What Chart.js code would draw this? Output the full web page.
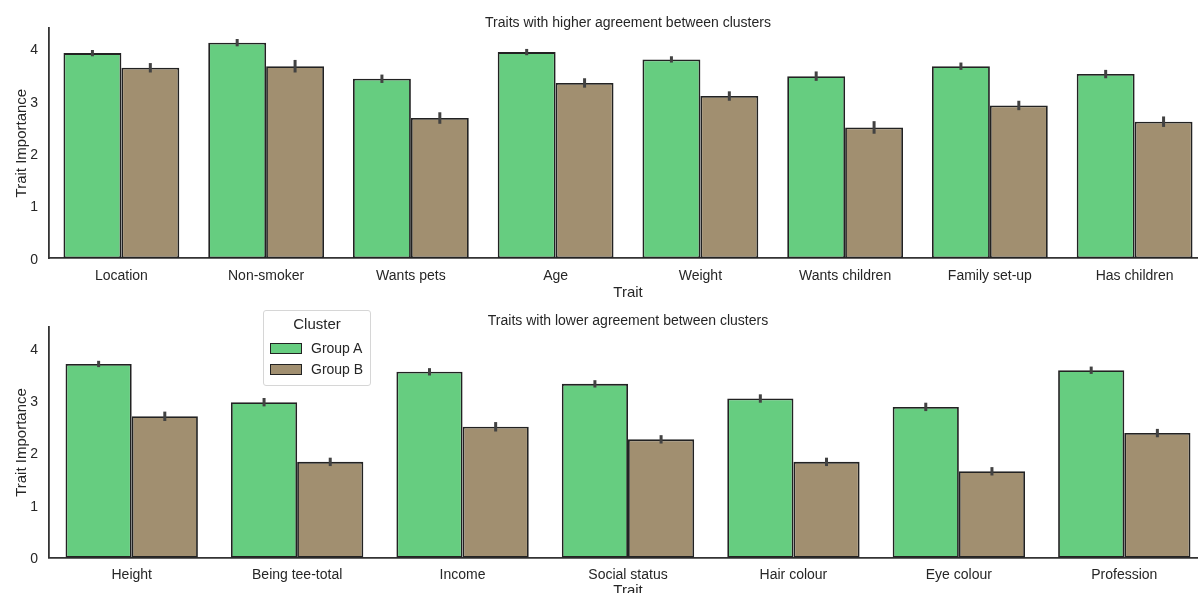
<!DOCTYPE html>
<html>
<head>
<meta charset="utf-8">
<script src="https://cdn.jsdelivr.net/npm/chart.js@4.4.1/dist/chart.umd.min.js"></script>
<style>
  html, body { margin: 0; padding: 0; background: #fff; overflow: hidden; }
  #page { position: relative; width: 1198px; height: 593px; overflow: hidden; background: #fff; }
  canvas { position: absolute; left: 0; }
  #topChart { top: 0; }
  #bottomChart { top: 300px; }
  #legend {
    position: absolute; left: 263px; top: 310px; width: 108px; height: 76px;
    border: 1px solid #d6d6d6; border-radius: 3px; background: rgba(255,255,255,0.85);
    font-family: "Liberation Sans", Arial, sans-serif; color: #262626; box-sizing: border-box;
  }
  #legend .ttl { position: absolute; left: 0; width: 100%; top: 4px; text-align: center; font-size: 15px; }
  #legend .row { position: absolute; left: 6px; font-size: 14px; line-height: 16px; }
  #legend .sw { position: absolute; left: 0; top: 3px; width: 30px; height: 9px; border: 1px solid #222; box-sizing: content-box; }
  #legend .lbl { position: absolute; left: 41px; top: 0; white-space: nowrap; }
</style>
</head>
<body>
<div id="page">
  <canvas id="topChart" width="1208" height="302"></canvas>
  <canvas id="bottomChart" width="1208" height="300"></canvas>
  <div id="legend">
    <div class="ttl">Cluster</div>
    <div class="row" style="top:29px"><span class="sw" id="swA"></span><span class="lbl">Group A</span></div>
    <div class="row" style="top:50px"><span class="sw" id="swB"></span><span class="lbl">Group B</span></div>
  </div>
</div>
<script>
// Mean trait importance per cluster, with half-width of the confidence interval
const traitsHigh = ['Location', 'Non-smoker', 'Wants pets', 'Age', 'Weight', 'Wants children', 'Family set-up', 'Has children'];
const highGroupA = [3.92, 4.12, 3.43, 3.94, 3.80, 3.48, 3.67, 3.52];
const highGroupB = [3.64, 3.67, 2.68, 3.35, 3.10, 2.50, 2.92, 2.61];
const highErrA = [0.06, 0.07, 0.08, 0.06, 0.06, 0.09, 0.07, 0.08];
const highErrB = [0.09, 0.12, 0.11, 0.09, 0.09, 0.12, 0.09, 0.10];

const traitsLow = ['Height', 'Being tee-total', 'Income', 'Social status', 'Hair colour', 'Eye colour', 'Profession'];
const lowGroupA = [3.70, 2.97, 3.55, 3.32, 3.04, 2.88, 3.58];
const lowGroupB = [2.70, 1.83, 2.50, 2.26, 1.83, 1.65, 2.38];
const lowErrA = [0.06, 0.08, 0.07, 0.07, 0.08, 0.08, 0.07];
const lowErrB = [0.09, 0.08, 0.09, 0.08, 0.08, 0.08, 0.08];

const yTicks = [0, 1, 2, 3, 4];
const yMax = 4.4;

const clusterNames = ['Group A', 'Group B'];
const clusterColors = ['#66cd80', '#a18f70'];
const edgeColor = '#222222';
const textColor = '#262626';
const spineColor = '#333333';
const fontFamily = '"Liberation Sans", Arial, sans-serif';

document.getElementById('swA').style.background = clusterColors[0];
document.getElementById('swB').style.background = clusterColors[1];

// Draws vertical confidence-interval lines at each bar's centre
const errorBarPlugin = {
  id: 'errorBars',
  afterDatasetsDraw(chart) {
    const ctx = chart.ctx;
    const yScale = chart.scales.y;
    ctx.save();
    ctx.strokeStyle = '#424242';
    ctx.lineWidth = 3;
    ctx.lineCap = 'butt';
    chart.data.datasets.forEach((ds, i) => {
      const meta = chart.getDatasetMeta(i);
      meta.data.forEach((bar, j) => {
        const v = ds.data[j];
        const e = ds.errors[j];
        ctx.beginPath();
        ctx.moveTo(bar.x, yScale.getPixelForValue(v - e));
        ctx.lineTo(bar.x, yScale.getPixelForValue(v + e));
        ctx.stroke();
      });
    });
    ctx.restore();
  }
};

function makeChart(id, labels, a, b, errA, errB, title, titlePad, xHeight) {
  return new Chart(document.getElementById(id), {
    type: 'bar',
    data: {
      labels: labels,
      datasets: [
        { label: clusterNames[0], data: a, errors: errA, backgroundColor: clusterColors[0],
          borderColor: edgeColor, borderWidth: 1.8, borderSkipped: false },
        { label: clusterNames[1], data: b, errors: errB, backgroundColor: clusterColors[1],
          borderColor: edgeColor, borderWidth: 1.8, borderSkipped: false }
      ]
    },
    options: {
      responsive: false,
      animation: false,
      devicePixelRatio: 1,
      layout: { padding: { left: 0, right: 1, top: 0, bottom: 0 } },
      datasets: { bar: { categoryPercentage: 0.8, barPercentage: 1.0 } },
      plugins: {
        legend: { display: false },
        tooltip: { enabled: false },
        title: {
          display: true, text: title, fullSize: false, color: textColor,
          font: { family: fontFamily, size: 14, weight: 'normal', lineHeight: 0.75 },
          padding: titlePad
        }
      },
      scales: {
        x: {
          grid: { display: false, drawTicks: false, tickLength: 0 },
          border: { display: true, color: spineColor, width: 1.8 },
          ticks: { color: textColor, padding: 9.5, maxRotation: 0, autoSkip: false,
                   font: { family: fontFamily, size: 14 } },
          title: { display: true, text: 'Trait', color: textColor, padding: { top: 0, bottom: 0 },
                   font: { family: fontFamily, size: 15 } },
          afterFit(scale) { scale.height = xHeight; }
        },
        y: {
          min: 0, max: yMax,
          grid: { display: false, drawTicks: false, tickLength: 0 },
          border: { display: true, color: spineColor, width: 1.8 },
          ticks: { color: textColor, padding: 11, labelOffset: 1.5, font: { family: fontFamily, size: 14 } },
          afterBuildTicks(scale) { scale.ticks = yTicks.map(v => ({ value: v })); },
          title: { display: true, text: 'Trait Importance', color: textColor, padding: { top: 12.5, bottom: 0 },
                   font: { family: fontFamily, size: 15 } },
          afterFit(scale) { scale.width = 49; }
        }
      }
    },
    plugins: [errorBarPlugin]
  });
}

makeChart('topChart', traitsHigh, highGroupA, highGroupB, highErrA, highErrB,
  'Traits with higher agreement between clusters', { top: 17.5, bottom: 0 }, 43.7);
makeChart('bottomChart', traitsLow, lowGroupA, lowGroupB, lowErrA, lowErrB,
  'Traits with lower agreement between clusters', { top: 16, bottom: 0.8 }, 42.3);
</script>
</body>
</html>
